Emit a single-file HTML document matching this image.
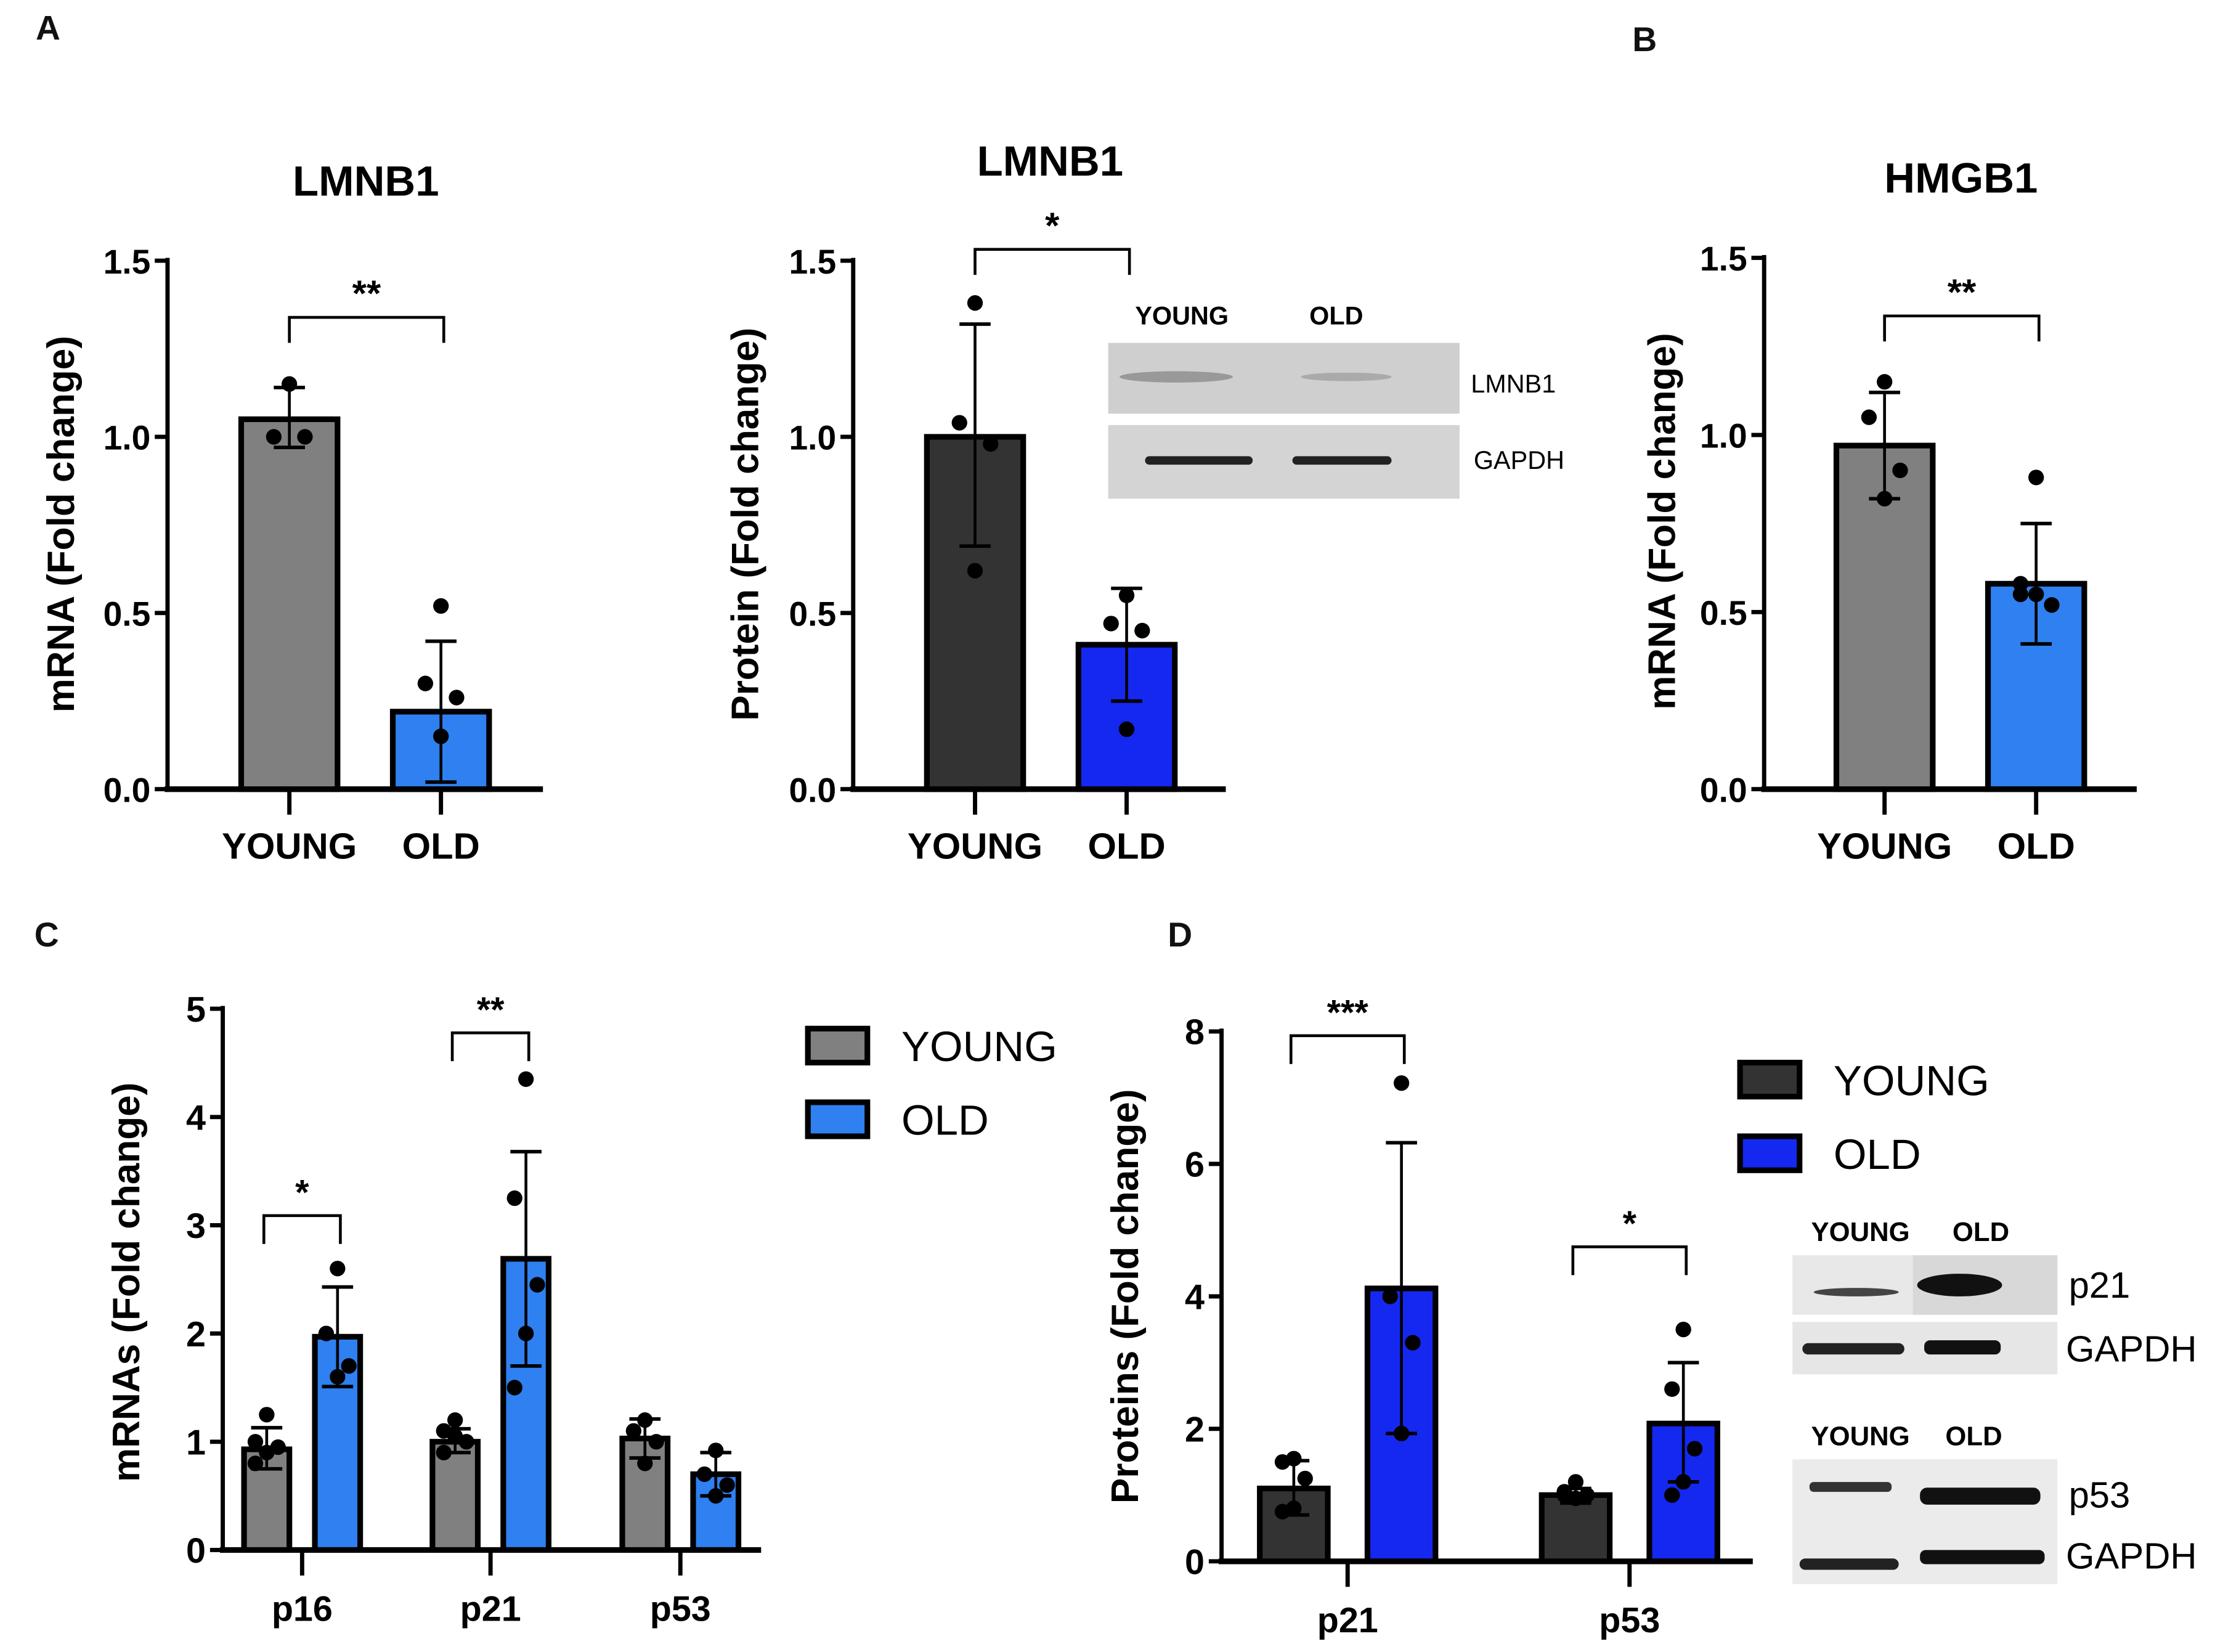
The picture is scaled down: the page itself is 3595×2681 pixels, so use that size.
<!DOCTYPE html>
<html><head><meta charset="utf-8"><style>
html,body{margin:0;padding:0;background:#fff}
svg{display:block}
text{font-family:"Liberation Sans",Arial,sans-serif}
</style></head><body>
<svg id="fig" width="3595" height="2681" viewBox="0 0 1563 1166" xmlns="http://www.w3.org/2000/svg">
<rect width="1563" height="1166" fill="#fff"/>
<g font-weight="bold" font-size="24" fill="#111">
<text x="25" y="28">A</text>
<text x="1152" y="36">B</text>
<text x="24" y="668">C</text>
<text x="824" y="668">D</text>
</g>
<!-- blots A -->
<g>
<text x="834" y="229" font-size="18" font-weight="bold" text-anchor="middle">YOUNG</text>
<text x="943" y="229" font-size="18" font-weight="bold" text-anchor="middle">OLD</text>
<rect x="782" y="242" width="248" height="50" fill="#cfcfcf"/>
<ellipse cx="830" cy="266" rx="40" ry="4" fill="#999"/>
<ellipse cx="950" cy="266" rx="32" ry="3" fill="#aaa"/>
<rect x="782" y="300" width="248" height="52" fill="#d4d4d4"/>
<rect x="808" y="322" width="76" height="6" rx="3" fill="#222"/>
<rect x="912" y="322" width="70" height="6" rx="3" fill="#222"/>
<text x="1038" y="277" font-size="18">LMNB1</text>
<text x="1040" y="331" font-size="18">GAPDH</text>
</g>
<!-- blots D -->
<g>
<text x="1313" y="876" font-size="19" font-weight="bold" text-anchor="middle">YOUNG</text>
<text x="1398" y="876" font-size="19" font-weight="bold" text-anchor="middle">OLD</text>
<rect x="1265" y="886" width="187" height="42" fill="#e8e8e8"/>
<rect x="1350" y="886" width="102" height="42" fill="#d8d8d8"/>
<ellipse cx="1310" cy="912" rx="30" ry="3" fill="#444"/>
<ellipse cx="1383" cy="907" rx="30" ry="8" fill="#111"/>
<rect x="1265" y="933" width="187" height="37" fill="#e6e6e6"/>
<rect x="1272" y="948" width="72" height="8" rx="4" fill="#222"/>
<rect x="1358" y="946" width="54" height="10" rx="4" fill="#111"/>
<text x="1460" y="916" font-size="26">p21</text>
<text x="1458" y="961" font-size="26">GAPDH</text>
<text x="1313" y="1020" font-size="19" font-weight="bold" text-anchor="middle">YOUNG</text>
<text x="1393" y="1020" font-size="19" font-weight="bold" text-anchor="middle">OLD</text>
<rect x="1265" y="1030" width="187" height="88" fill="#ebebeb"/>
<rect x="1277" y="1046" width="58" height="7" rx="3" fill="#333"/>
<rect x="1355" y="1050" width="85" height="12" rx="5" fill="#111"/>
<rect x="1270" y="1100" width="70" height="8" rx="4" fill="#222"/>
<rect x="1355" y="1094" width="88" height="10" rx="4" fill="#111"/>
<text x="1460" y="1064" font-size="26">p53</text>
<text x="1458" y="1107" font-size="26">GAPDH</text>
</g>
</svg>
<script>
// ---- data ----
const a1Categories=["YOUNG","OLD"];
const a1Means=[1.05,0.22];
const a1Err=[[0.97,1.14],[0.02,0.42]];
const a1Points=[[1.15,1.0,1.0],[0.52,0.30,0.26,0.15]];
const a2Categories=["YOUNG","OLD"];
const a2Means=[1.0,0.41];
const a2Err=[[0.69,1.32],[0.25,0.57]];
const a2Points=[[1.38,1.04,0.98,0.62],[0.55,0.47,0.45,0.17]];
const bCategories=["YOUNG","OLD"];
const bMeans=[0.97,0.58];
const bErr=[[0.82,1.12],[0.41,0.75]];
const bPoints=[[1.15,1.05,0.90,0.82],[0.88,0.55,0.52,0.55,0.58]];
const abTicks=[0,0.5,1.0,1.5];
const cGroups=["p16","p21","p53"];
const cYoung=[0.93,1.0,1.03];
const cOld=[1.97,2.69,0.70];
const cYoungErr=[[0.75,1.13],[0.90,1.12],[0.85,1.21]];
const cOldErr=[[1.51,2.43],[1.70,3.68],[0.50,0.90]];
const cYoungPts=[[1.25,1.0,0.95,0.9,0.8],[1.2,1.1,1.0,1.05,0.9],[1.2,1.1,1.0,0.8]];
const cOldPts=[[2.6,2.0,1.7,1.6],[4.35,3.25,2.45,2.0,1.5],[0.92,0.7,0.6,0.5]];
const cTicks=[0,1,2,3,4,5];
const dGroups=["p21","p53"];
const dYoung=[1.1,1.0];
const dOld=[4.12,2.08];
const dYoungErr=[[0.70,1.52],[0.88,1.10]];
const dOldErr=[[1.93,6.32],[1.20,3.00]];
const dYoungPts=[[1.55,1.5,1.25,0.8,0.75],[1.2,1.05,1.0,0.95,1.0]];
const dOldPts=[[7.22,4.0,3.3,1.93],[3.5,2.6,1.7,1.2,1.0]];
const dTicks=[0,2,4,6,8];

const NS="http://www.w3.org/2000/svg";
const svg=document.getElementById('fig');
function mk(tag,attrs,parent,txt){const e=document.createElementNS(NS,tag);for(const k in attrs)e.setAttribute(k,attrs[k]);if(txt!==undefined)e.textContent=txt;(parent||svg).appendChild(e);return e;}

function axes(g,o){
  const y=v=>o.y0-(v-o.min)/(o.max-o.min)*(o.y0-o.yTop);
  mk('line',{x1:o.x,y1:o.yTop-2,x2:o.x,y2:o.y0,stroke:'#000','stroke-width':3},g);
  mk('line',{x1:o.x-2,y1:o.y0,x2:o.xEnd,y2:o.y0,stroke:'#000','stroke-width':4},g);
  o.ticks.forEach(t=>{
    mk('line',{x1:o.x-9,y1:y(t),x2:o.x,y2:y(t),stroke:'#000','stroke-width':3},g);
    const tl=mk('text',{x:o.x-12,y:y(t)+9,'font-size':o.tfs,'font-weight':'bold','text-anchor':'end'},g,o.fmt(t));
    
    
  });
  const yl=mk('text',{x:0,y:0,'font-size':o.lfs,'font-weight':'bold','text-anchor':'middle',transform:`translate(${o.lx},${o.ly}) rotate(-90)`},g,o.label);
  
  
  return y;
}
function bar(g,y,cx,w,v,fill,err,pts,y0,spread){
  const r=mk('rect',{x:cx-w/2,y:y(v),width:w,height:y0-y(v),fill:fill,stroke:'#000','stroke-width':4},g);
  
  
  mk('line',{x1:cx,y1:y(err[0]),x2:cx,y2:y(err[1]),stroke:'#000','stroke-width':2},g);
  mk('line',{x1:cx-11,y1:y(err[0]),x2:cx+11,y2:y(err[0]),stroke:'#000','stroke-width':2.5},g);
  mk('line',{x1:cx-11,y1:y(err[1]),x2:cx+11,y2:y(err[1]),stroke:'#000','stroke-width':2.5},g);
  pts.forEach((p,i)=>{
    const off=pts.length>1?(i%3===0?0:(i%3===1?-spread:spread)):0;
    const c=mk('circle',{cx:cx+off,cy:y(p),r:5.5,fill:'#000'},g);
    
    
  });
}
function bracket(g,x1,x2,yb,drop,stars,fs){
  mk('path',{d:`M${x1} ${yb+drop}V${yb}H${x2}V${yb+drop}`,fill:'none',stroke:'#000','stroke-width':2},g);
  const s=mk('text',{x:(x1+x2)/2,y:yb-8,'font-size':fs,'font-weight':'bold','text-anchor':'middle'},g,stars);
  
  
}
function twoBar(name,o,cats,means,err,pts,fills,title,tx,ty,br){
  const g=mk('g',{});
  
  
  const y=axes(g,o);
  const t=mk('text',{x:tx,y:ty,'font-size':30,'font-weight':'bold','text-anchor':'middle'},g,title);
  
  
  cats.forEach((c,i)=>{
    const cx=o.cx[i];
    bar(g,y,cx,68,means[i],fills[i],err[i],pts[i],o.y0,11);
    mk('line',{x1:cx,y1:o.y0,x2:cx,y2:o.y0+18,stroke:'#000','stroke-width':3},g);
    const xl=mk('text',{x:cx,y:o.y0+49,'font-size':26,'font-weight':'bold','text-anchor':'middle'},g,c);
    
    
  });
  bracket(g,o.cx[0],o.cx[1]+2,br,18,br===176?'*':'**',26);
}
const fmt1=t=>t.toFixed(1);
twoBar('chart-lmnb1-mrna',{x:118,xEnd:383,y0:557,yTop:184,min:0,max:1.5,ticks:abTicks,fmt:fmt1,tfs:24,lfs:27,lx:52,ly:370,label:'mRNA (Fold change)',cx:[204,311]},a1Categories,a1Means,a1Err,a1Points,['#808080','#2f80f0'],'LMNB1',258,138,224);
twoBar('chart-lmnb1-protein',{x:602,xEnd:865,y0:557,yTop:184,min:0,max:1.5,ticks:abTicks,fmt:fmt1,tfs:24,lfs:27,lx:535,ly:370,label:'Protein (Fold change)',cx:[688,795]},a2Categories,a2Means,a2Err,a2Points,['#333333','#1428f0'],'LMNB1',741,124,176);
twoBar('chart-hmgb1-mrna',{x:1245,xEnd:1508,y0:557,yTop:182,min:0,max:1.5,ticks:abTicks,fmt:fmt1,tfs:24,lfs:27,lx:1182,ly:368,label:'mRNA (Fold change)',cx:[1330,1437]},bCategories,bMeans,bErr,bPoints,['#808080','#2f80f0'],'HMGB1',1384,136,223);

function grouped(name,o,groups,ym,om,ye,oe,yp,op,fills,w,brs,legend){
  const g=mk('g',{});
  
  
  const y=axes(g,o);
  groups.forEach((gr,i)=>{
    const c=o.gc[i];
    bar(g,y,c-o.off,w,ym[i],fills[0],ye[i],yp[i],o.y0,8);
    bar(g,y,c+o.off,w,om[i],fills[1],oe[i],op[i],o.y0,8);
    mk('line',{x1:c,y1:o.y0,x2:c,y2:o.y0+18,stroke:'#000','stroke-width':3},g);
    const xl=mk('text',{x:c,y:o.y0+50,'font-size':25,'font-weight':'bold','text-anchor':'middle'},g,gr);
    
    
  });
  brs.forEach(b=>bracket(g,o.gc[b.i]-o.off-2,o.gc[b.i]+o.off+2,b.y,20,b.s,25));
  ['YOUNG','OLD'].forEach((l,i)=>{
    const sq=mk('rect',{x:legend.x,y:legend.y+i*52-12,width:42,height:24,fill:fills[i],stroke:'#000','stroke-width':4},g);
    
    
    const lt=mk('text',{x:legend.x+66,y:legend.y+i*52+11,'font-size':30},g,l);
    
    
  });
}
grouped('chart-senescence-mrna',{x:157,xEnd:537,y0:1094,yTop:712,min:0,max:5,ticks:cTicks,fmt:t=>String(t),tfs:25,lfs:27,lx:98,ly:905,label:'mRNAs (Fold change)',gc:[213,346,480],off:25},cGroups,cYoung,cOld,cYoungErr,cOldErr,cYoungPts,cOldPts,['#808080','#2f80f0'],32,[{i:0,y:858,s:'*'},{i:1,y:729,s:'**'}],{x:570,y:738});
grouped('chart-senescence-protein',{x:862,xEnd:1237,y0:1102,yTop:728,min:0,max:8,ticks:dTicks,fmt:t=>String(t),tfs:25,lfs:27,lx:803,ly:915,label:'Proteins (Fold change)',gc:[951,1150],off:38},dGroups,dYoung,dOld,dYoungErr,dOldErr,dYoungPts,dOldPts,['#333333','#1428f0'],48,[{i:0,y:731,s:'***'},{i:1,y:880,s:'*'}],{x:1228,y:762});
</script>
</body></html>
